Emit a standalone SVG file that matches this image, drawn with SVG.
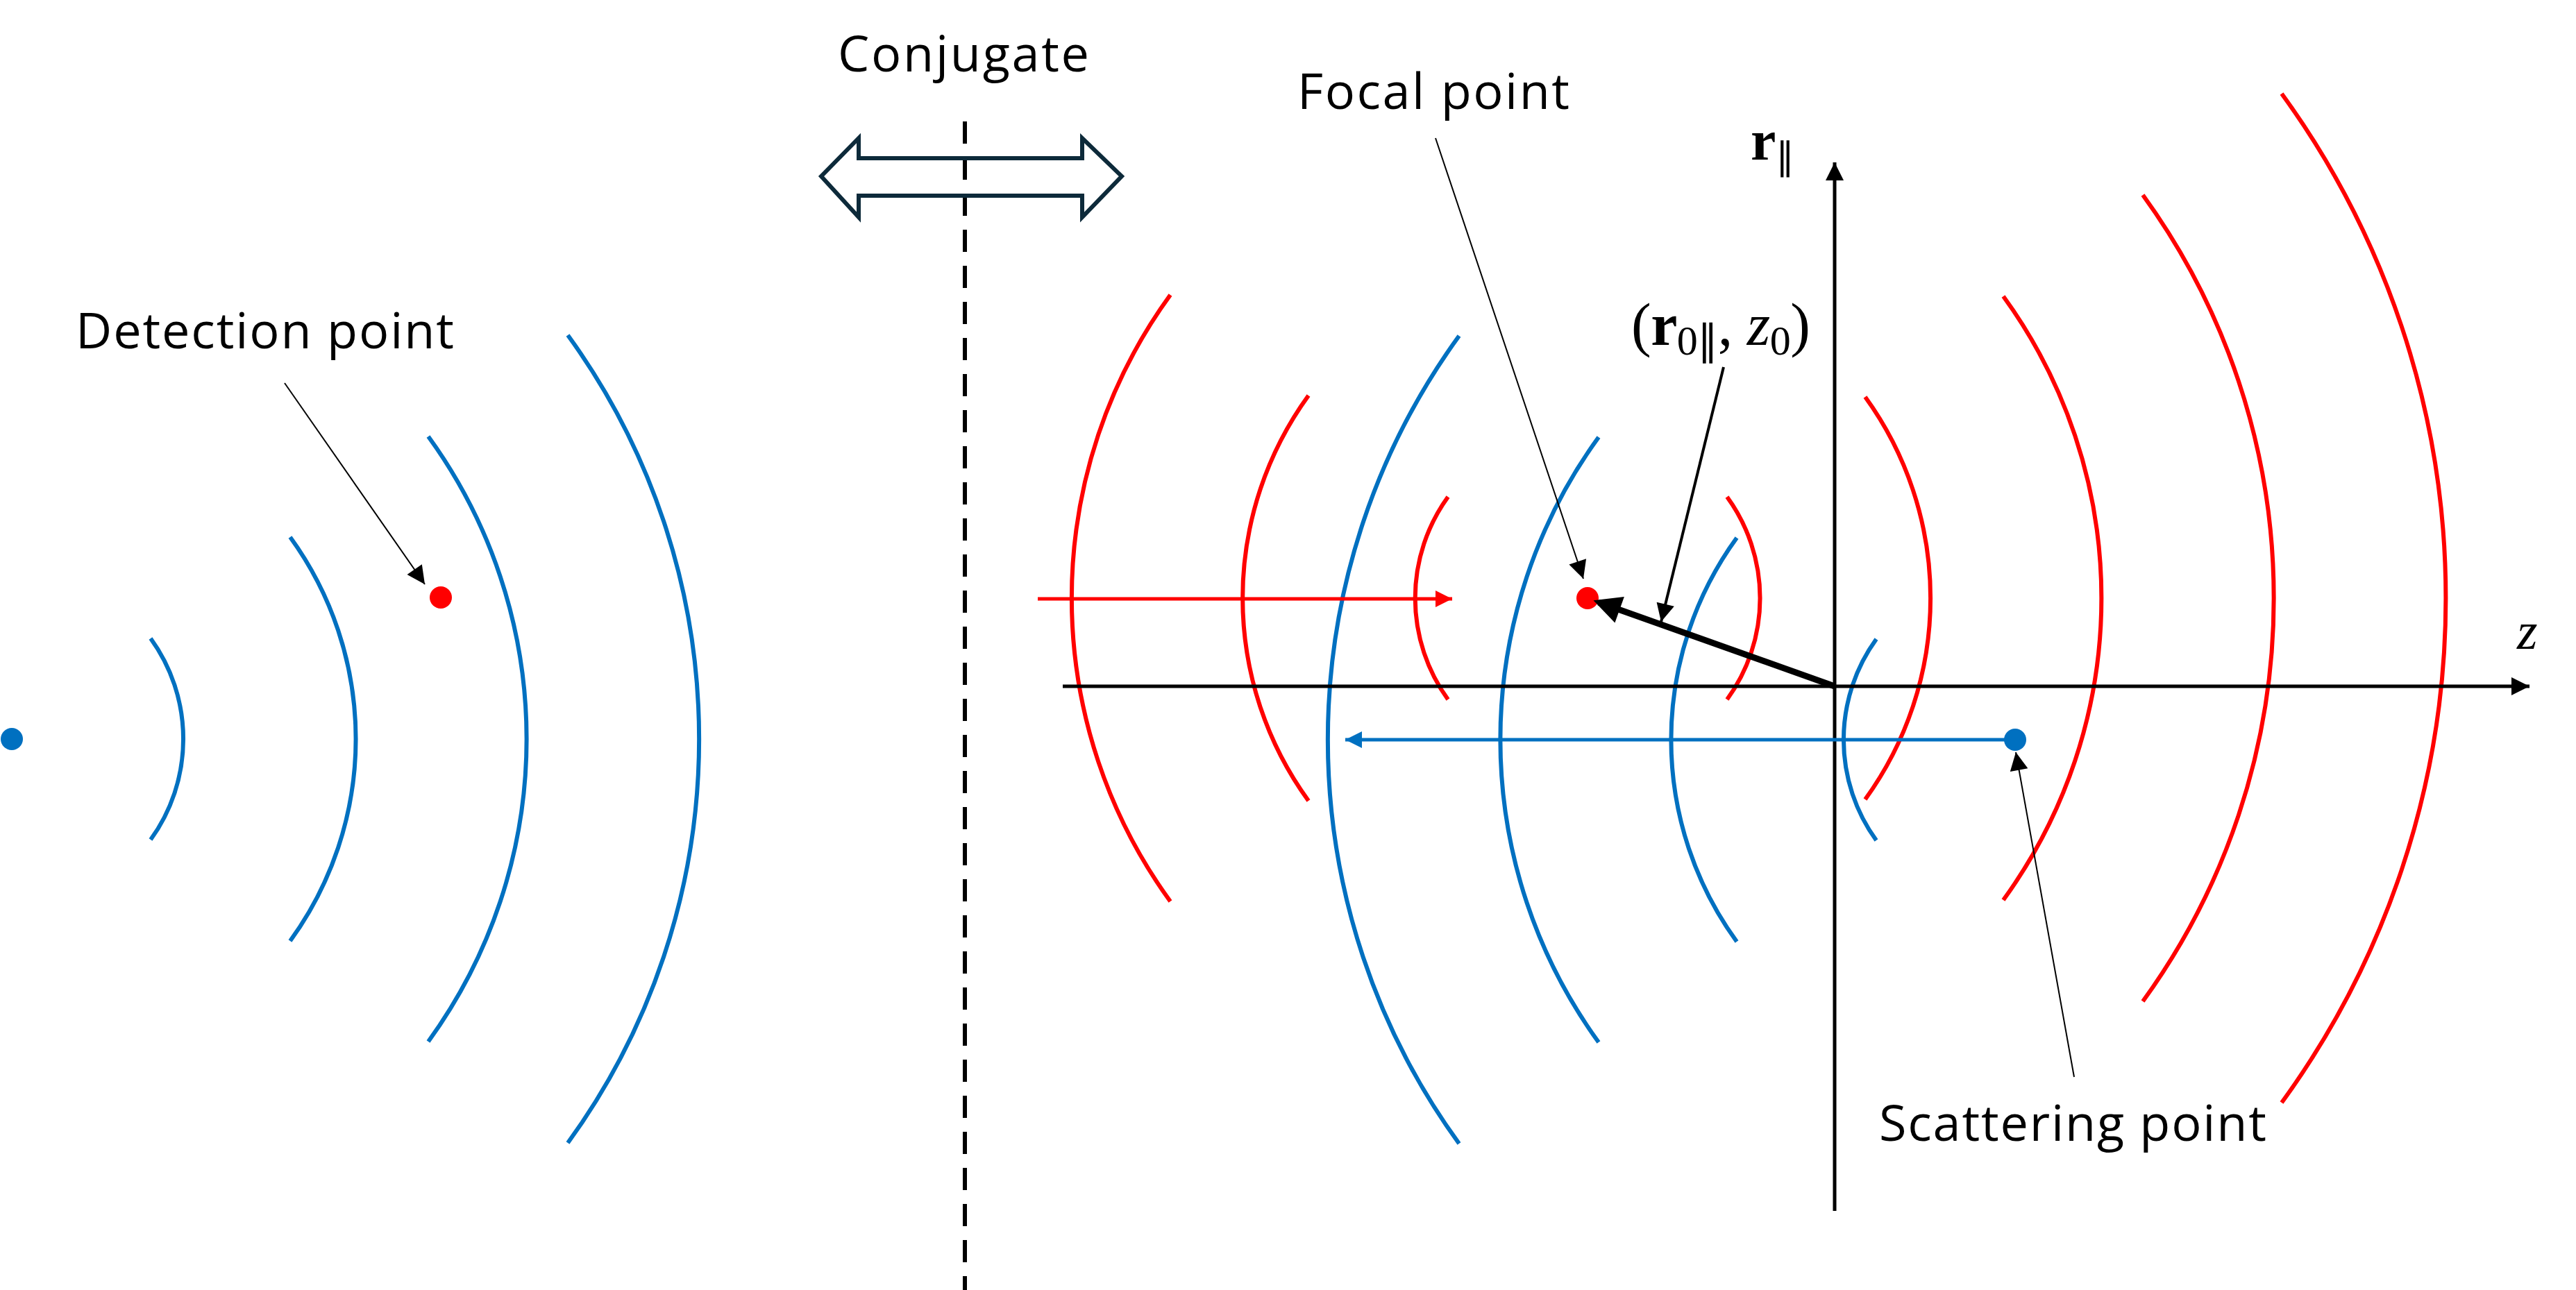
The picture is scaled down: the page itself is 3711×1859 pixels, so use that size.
<svg xmlns="http://www.w3.org/2000/svg" width="3711" height="1859" viewBox="0 0 3711 1859">
<style>
.b{fill:none;stroke:#0070C0;stroke-width:6}
.r{fill:none;stroke:#FF0000;stroke-width:6}
.t{font-family:"Open Sans","Liberation Sans",sans-serif;font-size:72px;fill:#000}
.m{font-family:"Liberation Serif","Times New Roman",serif;fill:#000}
</style>
<defs>
<marker id="ak" markerUnits="userSpaceOnUse" viewBox="0 0 10 10" refX="10" refY="5" markerWidth="30" markerHeight="26" orient="auto"><path d="M0,0L10,5L0,10z" fill="#000"/></marker>
<marker id="ar" markerUnits="userSpaceOnUse" viewBox="0 0 10 10" refX="10" refY="5" markerWidth="30" markerHeight="24" orient="auto"><path d="M0,0L10,5L0,10z" fill="#FF0000"/></marker>
<marker id="ab" markerUnits="userSpaceOnUse" viewBox="0 0 10 10" refX="10" refY="5" markerWidth="30" markerHeight="24" orient="auto"><path d="M0,0L10,5L0,10z" fill="#0070C0"/></marker>
<marker id="aK" markerUnits="userSpaceOnUse" viewBox="0 0 10 10" refX="8" refY="5" markerWidth="44" markerHeight="40" orient="auto"><path d="M0,0L10,5L0,10z" fill="#000"/></marker>
</defs>
<g id="waves">
<path class="b" d="M217,920A247,247 0 0 1 217,1210M418,774A495,495 0 0 1 418,1356M617,629A742,742 0 0 1 617,1501M818,483A990,990 0 0 1 818,1647"/>
<path class="b" d="M2703,921A247,247 0 0 0 2703,1211M2502,775A495,495 0 0 0 2502,1357M2303,630A742,742 0 0 0 2303,1502M2102,484A990,990 0 0 0 2102,1648"/>
<path class="r" d="M2086,716A249,249 0 0 0 2086,1008M1885,570A497,497 0 0 0 1885,1154M1686,425A743,743 0 0 0 1686,1299"/>
<path class="r" d="M2488,716A248,248 0 0 1 2488,1008M2687,572A494,494 0 0 1 2687,1152M2886,427A740,740 0 0 1 2886,1297M3087,281A989,989 0 0 1 3087,1443M3287,135A1236,1236 0 0 1 3287,1589"/>
</g>
<g id="conjugate">
<line x1="1390" y1="175" x2="1390" y2="1859" stroke="#000" stroke-width="6" stroke-dasharray="32,20"/>
<path d="M1183,254L1237,199V228H1559V199L1616,254L1559,313V282H1237V313Z" fill="none" stroke="#0d2a3a" stroke-width="6"/>
<text class="t" x="1207" y="103" textLength="362">Conjugate</text>
</g>
<g id="axes">
<line x1="1531" y1="989" x2="3644" y2="989" stroke="#000" stroke-width="5" marker-end="url(#ak)"/>
<line x1="2643" y1="1745" x2="2643" y2="234" stroke="#000" stroke-width="5" marker-end="url(#ak)"/>
<text class="m" x="2522" y="230" font-size="82" font-weight="bold">r<tspan font-size="54" font-weight="normal" dy="14">∥</tspan></text>
<text class="m" x="3626" y="935" font-size="76" font-style="italic">z</text>
</g>
<g id="beams">
<line x1="1495" y1="863" x2="2092" y2="863" stroke="#FF0000" stroke-width="5" marker-end="url(#ar)"/>
<line x1="2903" y1="1066" x2="1938" y2="1066" stroke="#0070C0" stroke-width="5" marker-end="url(#ab)"/>
</g>
<g id="detection">
<circle cx="17" cy="1065" r="16" fill="#0070C0"/>
<circle cx="635" cy="861" r="16" fill="#FF0000"/>
<text class="t" x="109" y="502" textLength="545">Detection point</text>
</g>
<g id="focal">
<circle cx="2287" cy="862" r="16" fill="#FF0000"/>
<text class="t" x="1869" y="157" textLength="392">Focal point</text>
</g>
<g id="scattering">
<circle cx="2903" cy="1066" r="16" fill="#0070C0"/>
<text class="t" x="2707" y="1644" textLength="558">Scattering point</text>
</g>
<g id="vector">
<line x1="2643" y1="989" x2="2303" y2="868" stroke="#000" stroke-width="9" marker-end="url(#aK)"/>
<text class="m" x="2350" y="497" font-size="86" textLength="258">(<tspan font-weight="bold">r</tspan><tspan font-size="60" dy="14">0∥</tspan><tspan dy="-14">, </tspan><tspan font-style="italic">z</tspan><tspan font-size="60" dy="14">0</tspan><tspan dy="-14">)</tspan></text>
</g>
<g id="connectors" stroke="#000" fill="none">
<line x1="410" y1="552" x2="612" y2="842" stroke-width="2" marker-end="url(#ak)"/>
<line x1="2068" y1="199" x2="2281" y2="834" stroke-width="2" marker-end="url(#ak)"/>
<line x1="2483" y1="529" x2="2393" y2="896" stroke-width="4" marker-end="url(#ak)"/>
<line x1="2988" y1="1552" x2="2904" y2="1084" stroke-width="2" marker-end="url(#ak)"/>
</g>
</svg>
